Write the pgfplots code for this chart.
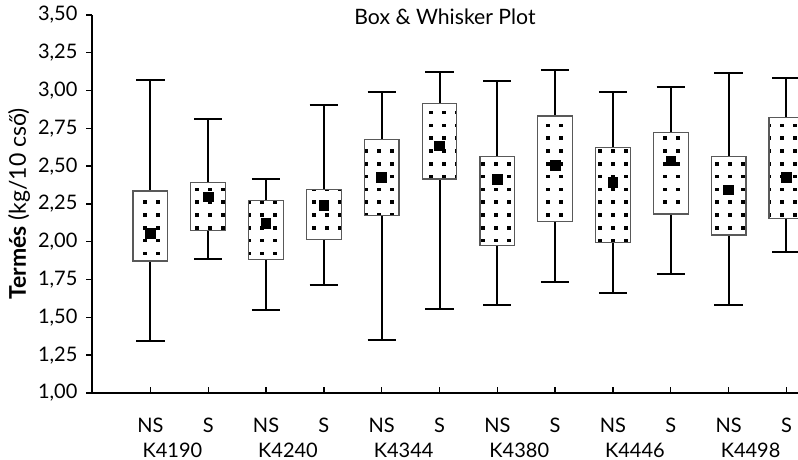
\documentclass[border=0pt]{standalone}
\usepackage{pgfplots}
\pgfplotsset{compat=1.18}
\usepgfplotslibrary{statistics}
\usetikzlibrary{patterns}
\usepackage{fontspec}
\setmainfont{Lato}

\pgfdeclarepatternformonly{mydots}{\pgfpoint{-1pt}{-1pt}}{\pgfpoint{7.5pt}{7.5pt}}{\pgfpoint{6.5pt}{6.4pt}}{%
  \pgfpathrectangle{\pgfpoint{0pt}{0pt}}{\pgfpoint{1.8pt}{1.8pt}}\pgfusepath{fill}}

\pgfplotsset{
  mybox/.style={
    draw=black, line width=1pt,
    boxplot/draw direction=y,
    boxplot/box extend=0.6,
    boxplot/whisker extend=0.49,
    boxplot/every box/.style={draw=black!65, line width=0.6pt, fill=white, postaction={pattern=mydots}},
    boxplot/every median/.style={draw=none},
  }
}

\begin{document}
\begin{tikzpicture}
\path[use as bounding box] (-46pt,-33.5pt) rectangle (353pt,196.5pt);
\begin{axis}[
  scale only axis, width=353pt, height=189pt,
  at={(0,0)}, anchor=south west,
  xmin=-1.01, xmax=11.2, ymin=1, ymax=3.5,
  axis lines=left, axis line style={-, line width=0.9pt},
  tick align=outside, major tick length=2.75pt,
  tick style={black, line width=0.7pt},
  xtick style={yshift=2.75pt},
  xtick={0,1,2,3,4,5,6,7,8,9,10,11},
  xticklabels={NS,S,NS,S,NS,S,NS,S,NS,S,NS,S},
  ytick={1,1.25,1.5,1.75,2,2.25,2.5,2.75,3,3.25,3.5},
  /pgf/number format/use comma,
  /pgf/number format/fixed,
  /pgf/number format/fixed zerofill,
  /pgf/number format/precision=2,
  /pgf/number format/assume math mode=true,
  tick label style={font=\fontsize{10}{12}\selectfont},
  xticklabel style={anchor=base, yshift=-17pt},
  yticklabel style={xshift=-1pt},
  ylabel={\textbf{Termés} (kg/10 cső)},
  every axis y label/.style={at={(axis description cs:0,0.5)}, rotate=90, anchor=center, yshift=36.5pt, font=\fontsize{11.5}{13}\selectfont},
  title={Box \& Whisker Plot},
  every axis title/.style={at={(axis description cs:0.5,1)}, anchor=base, yshift=-5pt, font=\fontsize{10.6}{12}\selectfont},
  clip mode=individual,
]
\addplot[mybox, boxplot prepared={draw position=0, lower whisker=1.346, lower quartile=1.873, median=2.056, upper quartile=2.336, upper whisker=3.07}] coordinates {};
\addplot[mybox, boxplot prepared={draw position=1, lower whisker=1.886, lower quartile=2.073, median=2.298, upper quartile=2.393, upper whisker=2.814}] coordinates {};
\addplot[mybox, boxplot prepared={draw position=2, lower whisker=1.547, lower quartile=1.884, median=2.122, upper quartile=2.274, upper whisker=2.415}] coordinates {};
\addplot[mybox, boxplot prepared={draw position=3, lower whisker=1.714, lower quartile=2.016, median=2.239, upper quartile=2.345, upper whisker=2.905}] coordinates {};
\addplot[mybox, boxplot prepared={draw position=4, lower whisker=1.350, lower quartile=2.175, median=2.424, upper quartile=2.675, upper whisker=2.993}] coordinates {};
\addplot[mybox, boxplot prepared={draw position=5, lower whisker=1.556, lower quartile=2.415, median=2.633, upper quartile=2.916, upper whisker=3.123}] coordinates {};
\addplot[mybox, boxplot prepared={draw position=6, lower whisker=1.584, lower quartile=1.974, median=2.413, upper quartile=2.563, upper whisker=3.063}] coordinates {};
\addplot[mybox, boxplot prepared={draw position=7, lower whisker=1.734, lower quartile=2.133, median=2.505, upper quartile=2.832, upper whisker=3.134}] coordinates {};
\addplot[mybox, boxplot prepared={draw position=8, lower whisker=1.663, lower quartile=1.994, median=2.393, upper quartile=2.622, upper whisker=2.993}] coordinates {};
\addplot[mybox, boxplot prepared={draw position=9, lower whisker=1.785, lower quartile=2.184, median=2.534, upper quartile=2.724, upper whisker=3.024}] coordinates {};
\addplot[mybox, boxplot prepared={draw position=10, lower whisker=1.582, lower quartile=2.045, median=2.343, upper quartile=2.563, upper whisker=3.114}] coordinates {};
\addplot[mybox, boxplot prepared={draw position=11, lower whisker=1.933, lower quartile=2.155, median=2.424, upper quartile=2.823, upper whisker=3.083}] coordinates {};
\addplot[only marks, mark=square*, mark size=2.4pt, black] coordinates {
  (0,2.056) (1,2.298) (2,2.122) (3,2.239) (4,2.424) (5,2.633)
  (6,2.413) (7,2.505) (8,2.393) (9,2.534) (10,2.343) (11,2.424)};
\node[anchor=base, font=\fontsize{10}{12}\selectfont] at (axis cs:0.38,1) [yshift=-32.5pt] {K4190};
\node[anchor=base, font=\fontsize{10}{12}\selectfont] at (axis cs:2.38,1) [yshift=-32.5pt] {K4240};
\node[anchor=base, font=\fontsize{10}{12}\selectfont] at (axis cs:4.38,1) [yshift=-32.5pt] {K4344};
\node[anchor=base, font=\fontsize{10}{12}\selectfont] at (axis cs:6.38,1) [yshift=-32.5pt] {K4380};
\node[anchor=base, font=\fontsize{10}{12}\selectfont] at (axis cs:8.38,1) [yshift=-32.5pt] {K4446};
\node[anchor=base, font=\fontsize{10}{12}\selectfont] at (axis cs:10.38,1) [yshift=-32.5pt] {K4498};
\end{axis}
\end{tikzpicture}
\end{document}
